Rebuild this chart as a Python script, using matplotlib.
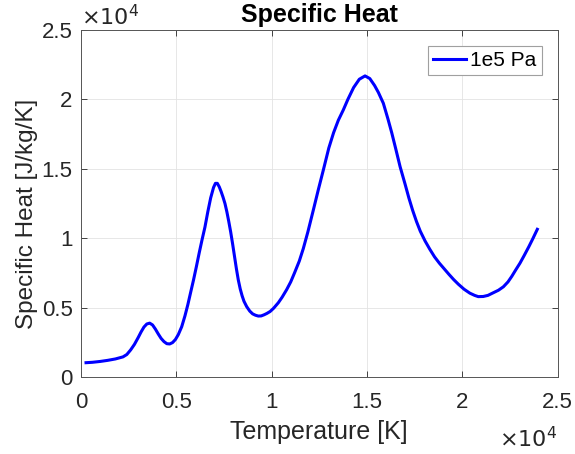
import matplotlib.pyplot as plt
from matplotlib.ticker import FuncFormatter

# Values (temperature in K, specific heat in J/kg/K)
temperature = [260, 600, 1000, 1400, 1800, 2200, 2400, 2600, 2800, 3000,
               3150, 3300, 3450, 3600, 3750, 3900, 4050, 4200, 4350, 4500,
               4650, 4800, 4950, 5100, 5280, 5450, 5600, 5750, 5900, 6050,
               6200, 6350, 6500, 6650, 6800, 6950, 7050, 7150, 7250, 7350,
               7450, 7550, 7650, 7750, 7850, 7950, 8050, 8150, 8250, 8350,
               8450, 8550, 8690, 8850, 9000, 9150, 9300, 9450, 9600, 9750,
               9920, 10100, 10350, 10550, 10790, 11000, 11200, 11450, 11660, 11900,
               12200, 12450, 12710, 13000, 13250, 13500, 13760, 14000, 14300, 14600,
               14900, 15150, 15400, 15600, 15860, 16100, 16300, 16500, 16740, 17000,
               17200, 17400, 17600, 17800, 18050, 18300, 18550, 18800, 19050, 19300,
               19550, 19800, 20100, 20400, 20650, 20840, 21100, 21350, 21600, 21900,
               22160, 22400, 22600, 22800, 23030, 23250, 23500, 23700, 23940]
specific_heat = [1030, 1060, 1120, 1200, 1300, 1450, 1620, 1950, 2350, 2850,
                 3250, 3600, 3820, 3880, 3750, 3450, 3100, 2780, 2550, 2400,
                 2380, 2480, 2700, 3050, 3620, 4400, 5200, 6100, 6990, 7950,
                 8950, 9900, 10800, 11900, 12900, 13650, 13950, 13950, 13700, 13350,
                 12950, 12500, 11900, 11200, 10450, 9600, 8700, 7800, 6990, 6350,
                 5850, 5450, 5070, 4750, 4550, 4450, 4390, 4400, 4480, 4580,
                 4720, 4950, 5350, 5750, 6300, 6850, 7500, 8350, 9250, 10450,
                 12100, 13500, 14900, 16500, 17600, 18500, 19240, 20000, 20850, 21450,
                 21690, 21500, 21000, 20500, 19720, 18600, 17600, 16500, 15150, 13900,
                 12900, 12000, 11200, 10500, 9800, 9200, 8650, 8200, 7800, 7400,
                 7020, 6680, 6320, 6040, 5880, 5790, 5800, 5880, 6050, 6250,
                 6500, 6850, 7250, 7700, 8200, 8750, 9400, 9950, 10640]

plt.rcParams['font.family'] = ['Liberation Sans', 'DejaVu Sans']
txt = '#262626'

fig = plt.figure(figsize=(5.75, 4.54), dpi=100)
ax = fig.add_axes([0.141, 0.1696, 0.8286, 0.7644])

ax.plot(temperature, specific_heat, color='#0000ff', linewidth=2.2, label='1e5 Pa')

ax.set_xlim(0, 25000)
ax.set_ylim(0, 25000)
ax.set_xticks([0, 5000, 10000, 15000, 20000, 25000])
ax.set_yticks([0, 5000, 10000, 15000, 20000, 25000])
fmt = FuncFormatter(lambda v, p: ('%g' % (v / 1e4)))
ax.xaxis.set_major_formatter(fmt)
ax.yaxis.set_major_formatter(fmt)
ax.tick_params(direction='in', top=True, right=True, labelsize=16, colors=txt,
               length=4, width=0.6)
ax.tick_params(axis='x', pad=11)
ax.tick_params(axis='y', pad=6)
for s in ax.spines.values():
    s.set_color('#555555')
    s.set_linewidth(0.7)
ax.grid(True, color='#e3e3e3', linewidth=0.6)

ax.set_title('Specific Heat', fontsize=18, fontweight='bold', color='black', pad=6)
ax.set_xlabel('Temperature [K]', fontsize=18, color=txt, labelpad=5)
ax.set_ylabel('Specific Heat [J/kg/K]', fontsize=17.5, color=txt)
ax.yaxis.set_label_coords(-0.09, 0.47)

ax.text(0.0, 1.0, r'$\times10^{4}$', transform=ax.transAxes, fontsize=16,
        color=txt, ha='left', va='bottom')
ax.text(1.0, -0.145, r'$\times10^{4}$', transform=ax.transAxes, fontsize=16,
        color=txt, ha='right', va='top')

leg = ax.legend(loc='upper right', fontsize=15, fancybox=False, framealpha=1,
                edgecolor='#a0a0a0', handlelength=1.6, borderpad=0.25,
                handletextpad=0.2, borderaxespad=0.75)
leg.get_frame().set_linewidth(0.8)

fig.savefig('out.png', dpi=100)
